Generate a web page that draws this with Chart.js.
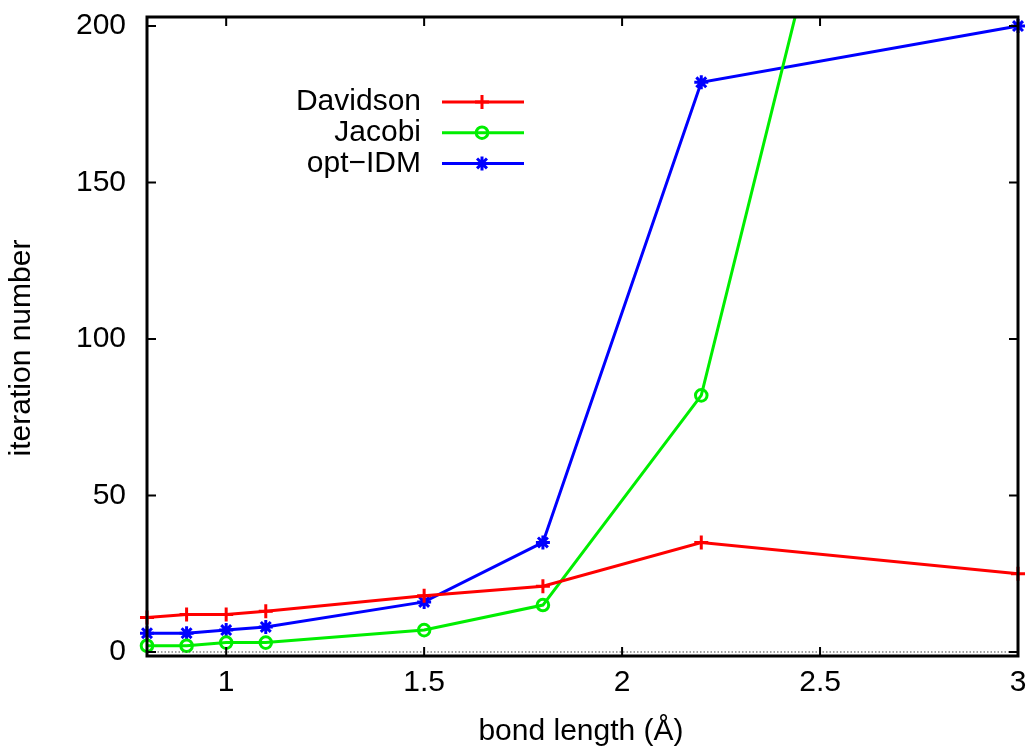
<!DOCTYPE html>
<html>
<head>
<meta charset="utf-8">
<script src="https://cdn.jsdelivr.net/npm/chart.js@4/dist/chart.umd.min.js"></script>
<style>
  html, body { margin: 0; padding: 0; background: #fff; }
  #wrap { width: 1034px; height: 749px; }
</style>
</head>
<body>
<div id="wrap"><canvas id="plot" width="1034" height="749"></canvas></div>
<script>
// bond length values (x)
const bondLengths = [0.8, 0.9, 1.0, 1.1, 1.5, 1.8, 2.2, 3.0];
// iteration numbers per method
const davidson = [11, 12, 12, 13, 18, 21, 35, 25];
const jacobi = [2, 2, 3, 3, 7, 15, 82, 490];
const optIDM = [6, 6, 7, 8, 16, 35, 182, 200];

const xTicks = [1, 1.5, 2, 2.5, 3];
const yTicks = [0, 50, 100, 150, 200];

const FONT = '"Liberation Sans", Arial, Helvetica, sans-serif';

function pts(ys) {
  return bondLengths.map((x, i) => ({ x: x, y: ys[i] }));
}

// gnuplot-like frame: full border, inward ticks, dotted zero line, key and axis titles
const gnuplotFrame = {
  id: 'gnuplotFrame',
  afterDatasetsDraw(chart) {
    const ctx = chart.ctx;
    const a = chart.chartArea;
    const xs = chart.scales.x;
    const ys = chart.scales.y;
    ctx.save();

    // zero axis
    const y0 = ys.getPixelForValue(0);
    ctx.strokeStyle = '#444';
    ctx.lineWidth = 1;
    ctx.setLineDash([1.5, 2]);
    ctx.beginPath();
    ctx.moveTo(a.left, y0);
    ctx.lineTo(a.right, y0);
    ctx.stroke();
    ctx.setLineDash([]);

    // ticks
    ctx.strokeStyle = '#000';
    ctx.lineWidth = 2;
    const tl = 9;
    ctx.beginPath();
    xTicks.forEach(v => {
      const px = xs.getPixelForValue(v);
      ctx.moveTo(px, a.bottom); ctx.lineTo(px, a.bottom - tl);
      ctx.moveTo(px, a.top); ctx.lineTo(px, a.top + tl);
    });
    yTicks.forEach(v => {
      const py = ys.getPixelForValue(v);
      ctx.moveTo(a.left, py); ctx.lineTo(a.left + tl, py);
      ctx.moveTo(a.right, py); ctx.lineTo(a.right - tl, py);
    });
    ctx.stroke();

    // border
    ctx.lineWidth = 3;
    ctx.strokeRect(a.left, a.top, a.right - a.left, a.bottom - a.top);

    // key
    ctx.font = '30px ' + FONT;
    ctx.fillStyle = '#000';
    ctx.textAlign = 'right';
    ctx.textBaseline = 'middle';
    chart.data.datasets.forEach((ds, i) => {
      const ky = 102 + i * 30.7;
      ctx.fillText(ds.label, 421, ky);
      ctx.strokeStyle = ds.borderColor;
      ctx.lineWidth = 3;
      ctx.beginPath();
      ctx.moveTo(442, ky);
      ctx.lineTo(524, ky);
      ctx.stroke();
      ctx.fillStyle = ds.pointBackgroundColor;
      Chart.helpers.drawPoint(ctx, {
        pointStyle: ds.pointStyle,
        radius: ds.pointRadius,
        borderWidth: ds.pointBorderWidth,
        rotation: 0
      }, 482, ky);
      ctx.fillStyle = '#000';
    });

    // axis titles
    ctx.textAlign = 'center';
    ctx.fillText('bond length (Å)', 581, 732);
    ctx.translate(22, 348);
    ctx.rotate(-Math.PI / 2);
    ctx.fillText('iteration number', 0, 0);
    ctx.restore();
  }
};

function series(label, ys, color, style, radius) {
  return {
    label: label,
    data: pts(ys),
    borderColor: color,
    backgroundColor: color,
    borderWidth: 3,
    pointStyle: style,
    pointRadius: radius,
    pointHoverRadius: radius,
    pointBorderColor: color,
    pointBackgroundColor: 'rgba(0,0,0,0)',
    pointBorderWidth: 3,
    tension: 0,
    clip: { left: 14, right: 14, top: 0, bottom: 14 }
  };
}

new Chart(document.getElementById('plot'), {
  type: 'line',
  data: {
    datasets: [
      series('Davidson', davidson, '#ff0000', 'cross', 7),
      series('Jacobi', jacobi, '#00ee00', 'circle', 5.8),
      series('opt\u2212IDM', optIDM, '#0000ff', 'star', 7)
    ]
  },
  plugins: [gnuplotFrame],
  options: {
    responsive: false,
    animation: false,
    events: [],
    layout: { padding: { left: 0, top: 17, right: 16, bottom: 0 } },
    plugins: { legend: { display: false }, tooltip: { enabled: false } },
    scales: {
      x: {
        type: 'linear',
        min: 0.8,
        max: 3,
        afterBuildTicks: s => { s.ticks = xTicks.map(v => ({ value: v })); },
        afterFit: s => { s.height = 93; s.paddingLeft = 0; s.paddingRight = 0; },
        grid: { display: false, drawTicks: false },
        border: { display: false },
        ticks: {
          color: '#000',
          padding: 9,
          maxRotation: 0,
          autoSkip: false,
          font: { family: FONT, size: 30 },
          callback: v => String(v)
        }
      },
      y: {
        type: 'linear',
        min: -1.28,
        max: 202.88,
        afterBuildTicks: s => { s.ticks = yTicks.map(v => ({ value: v })); },
        afterFit: s => { s.width = 147; s.paddingTop = 0; s.paddingBottom = 0; },
        grid: { display: false, drawTicks: false },
        border: { display: false },
        ticks: {
          color: '#000',
          padding: 21,
          autoSkip: false,
          font: { family: FONT, size: 30 },
          callback: v => String(v)
        }
      }
    }
  }
});
</script>
</body>
</html>
